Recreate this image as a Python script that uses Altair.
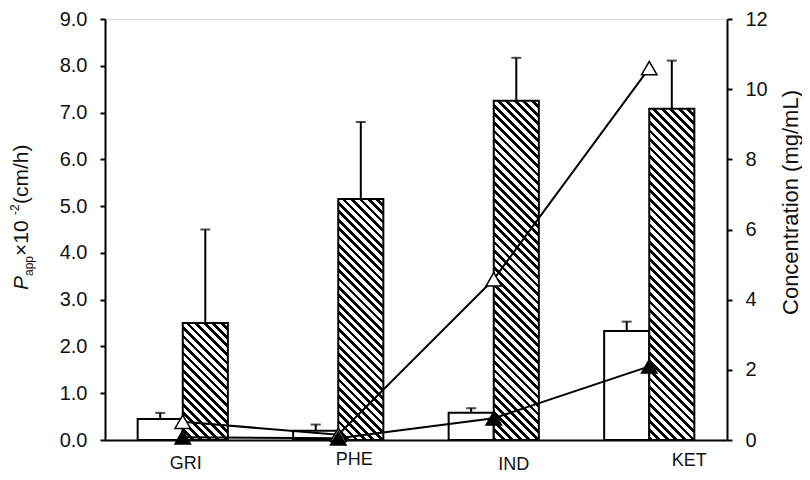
import math
import altair as alt
import pandas as pd

# ---------------- data ----------------
categories = ["GRI", "PHE", "IND", "KET"]
papp_white = [0.45, 0.20, 0.58, 2.33]
papp_white_err = [0.13, 0.13, 0.10, 0.20]
papp_hatched = [2.50, 5.15, 7.25, 7.08]
papp_hatched_err = [2.00, 1.65, 0.92, 1.03]
conc_open = [0.52, 0.15, 4.58, 10.60]
conc_filled = [0.08, 0.05, 0.62, 2.10]
left_ticks = [0, 1, 2, 3, 4, 5, 6, 7, 8, 9]
right_ticks = [0, 2, 4, 6, 8, 10, 12]

# ---------------- layout ----------------
W, H = 622, 421
LEFT_MAX, RIGHT_MAX = 9.0, 12.0
FONT = "Liberation Sans"
BAR_W = W / 4 * 0.58 / 2

rows = []
for i, c in enumerate(categories):
    rows.append(dict(cat=c, series="a", value=papp_white[i],
                     top=papp_white[i] + papp_white_err[i]))
    rows.append(dict(cat=c, series="b", value=papp_hatched[i],
                     top=papp_hatched[i] + papp_hatched_err[i]))
bars_df = pd.DataFrame(rows)

lrows = []
for g, vals in (("open", conc_open), ("filled", conc_filled)):
    for i, c in enumerate(categories):
        lrows.append(dict(cat=c, group=g, conc=vals[i], idx=i))
lines_df = pd.DataFrame(lrows)

label_dx = {"GRI": 3, "PHE": 16, "IND": 20, "KET": 40}
label_pad = {"GRI": 14, "PHE": 10, "IND": 15, "KET": 11}

x_axis = alt.Axis(
    title=None, ticks=False, labelAngle=0,
    labelOffset={"condition": [{"test": f"datum.value == '{k}'", "value": v}
                               for k, v in label_dx.items()], "value": 0},
    labelPadding={"condition": [{"test": f"datum.value == '{k}'", "value": v}
                                for k, v in label_pad.items()], "value": 12},
    labelFont=FONT, labelFontSize=18, labelColor="#111",
    domainColor="black", domainWidth=2)

x_enc = alt.X("cat:N", sort=categories,
              scale=alt.Scale(paddingInner=0.42, paddingOuter=0.21),
              axis=x_axis)
xo_enc = alt.XOffset("series:N", scale=alt.Scale(domain=["a", "b"], paddingInner=0, paddingOuter=0))
y_left = alt.Y("value:Q", scale=alt.Scale(domain=[0, LEFT_MAX], nice=False),
               axis=alt.Axis(title=None, values=left_ticks, format=".1f", grid=False,
                             tickSize=5, tickWidth=2, tickColor="black",
                             domainColor="black", domainWidth=2, labelPadding=13,
                             labelFont=FONT, labelFontSize=20, labelColor="#111"))


def hatch(value, period=6.0, black=0.45):
    h = value / LEFT_MAX * H
    w = BAR_W
    t = (w + h) / (w * w + h * h)
    dist = (w + h) / math.sqrt(2)
    n = max(1, int(round(dist / period)))
    stops = []
    for k in range(n):
        a = k / n
        b = (k + black) / n
        stops += [alt.GradientStop(color="black", offset=a),
                  alt.GradientStop(color="black", offset=b),
                  alt.GradientStop(color="white", offset=b),
                  alt.GradientStop(color="white", offset=(k + 1) / n)]
    return alt.LinearGradient(gradient="linear", stops=stops,
                              x1=0, y1=1, x2=t * w, y2=1 - t * h)


base = alt.Chart(bars_df)
white_bars = base.mark_bar(fill="white", stroke="black", strokeWidth=2).encode(
    x=x_enc, xOffset=xo_enc, y=y_left).transform_filter("datum.series == 'a'")

hatched_layers = []
for i, c in enumerate(categories):
    hatched_layers.append(
        base.mark_bar(fill=hatch(papp_hatched[i]), stroke="black", strokeWidth=2).encode(
            x=x_enc, xOffset=xo_enc, y=y_left
        ).transform_filter(f"datum.series == 'b' && datum.cat == '{c}'"))

err_rules = base.mark_rule(color="black", strokeWidth=2).encode(
    x=x_enc, xOffset=xo_enc, y=y_left, y2="top:Q")
err_caps = base.mark_tick(color="black", size=10, thickness=2).encode(
    x=x_enc, xOffset=xo_enc, y=alt.Y("top:Q"))

title_df = pd.DataFrame({"k": [0]})
tb = alt.Chart(title_df)


def piece(text, x, y, size, style="normal"):
    return tb.mark_text(angle=270, align="left", baseline="alphabetic", font=FONT,
                        fontSize=size, fontStyle=style, color="#111").encode(
        x=alt.value(x), y=alt.value(y), text=alt.value(text))


t_p = piece("P", -77, 271, 21, "italic")
t_app = piece("app", -72, 257, 12)
t_x10 = piece(" \u00d710", -77, 237, 21)
t_sup = piece("-2", -86, 196, 12)
t_unit = piece("(cm/h)", -77, 185, 21)

left = alt.layer(white_bars, *hatched_layers, err_rules, err_caps,
                 t_p, t_app, t_x10, t_sup, t_unit)

y_right = alt.Y("conc:Q", scale=alt.Scale(domain=[0, RIGHT_MAX], nice=False),
                axis=alt.Axis(orient="right", title="Concentration (mg/mL)", values=right_ticks,
                              grid=False, tickSize=5, tickWidth=2, tickColor="black",
                              domainColor="black", domainWidth=2, labelPadding=13,
                              labelFont=FONT, labelFontSize=20, labelColor="#111",
                              titleFont=FONT, titleFontSize=22, titleFontWeight="normal",
                              titleColor="#111", titleAngle=270, titleAlign="center",
                              titleBaseline="alphabetic", titleX=70, titleY=183))

lbase = alt.Chart(lines_df)
lines = lbase.mark_line(color="black", strokeWidth=2).encode(
    x=x_enc, y=y_right, detail="group:N", order=alt.Order("idx:Q"))
points = lbase.mark_point(shape="triangle-up", filled=True, size=240, stroke="black",
                          strokeWidth=1.5, opacity=1).encode(
    x=x_enc, y=y_right,
    fill=alt.Fill("group:N", scale=alt.Scale(domain=["open", "filled"], range=["white", "black"]),
                  legend=None))
right = alt.layer(lines, points)

chart = alt.layer(left, right).resolve_scale(y="independent").properties(
    width=W, height=H,
    autosize=alt.AutoSizeParams(type="none"),
    padding={"left": 97, "top": 11, "right": 75, "bottom": 32},
).configure_view(stroke=None).configure(background="white")

chart.save("out.html", embed_options={"renderer": "svg", "actions": False})
